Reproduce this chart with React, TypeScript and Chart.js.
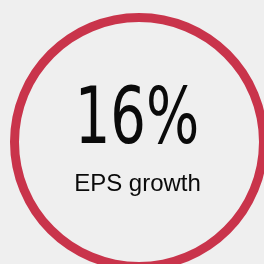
import React, { useEffect, useRef } from "react";
import { Chart, registerables } from "chart.js";

Chart.register(...registerables);

const segments = ["EPS growth"];
const segmentValues = [100];
const headlineValue = "16%";
const captionLabel = "EPS growth";

const RING_COLOR = "#c9344b";
const BG = "#efefef";

const centerText = {
  id: "centerText",
  afterDraw(chart: any) {
    const { ctx } = chart;
    const meta = chart.getDatasetMeta(0);
    const arc = meta.data[0];
    const cx = arc.x - 2;
    const cy = arc.y;
    ctx.save();
    ctx.fillStyle = "#0a0a0a";
    ctx.textAlign = "center";
    ctx.textBaseline = "alphabetic";
    ctx.save();
    ctx.translate(cx, cy + 1);
    ctx.scale(0.71, 1);
    ctx.font = "79px 'DejaVu Sans'";
    ctx.fillText(headlineValue, 0, 0);
    ctx.restore();
    ctx.font = "24px 'Liberation Sans', Arial, sans-serif";
    ctx.fillText(captionLabel, cx + 0.5, cy + 49);
    ctx.restore();
  },
};

export default function App() {
  const ref = useRef<HTMLCanvasElement | null>(null);
  useEffect(() => {
    document.body.style.margin = "0";
    document.body.style.background = BG;
    const chart = new Chart(ref.current as HTMLCanvasElement, {
      type: "doughnut",
      data: {
        labels: segments,
        datasets: [
          {
            data: segmentValues,
            backgroundColor: [RING_COLOR],
            borderWidth: 0,
          },
        ],
      },
      options: {
        responsive: false,
        animation: false,
        cutout: 120,
        layout: { padding: 0 },
        plugins: { legend: { display: false }, tooltip: { enabled: false } },
        events: [],
      },
      plugins: [centerText],
    });
    return () => chart.destroy();
  }, []);
  return (
    <div
      style={{
        position: "fixed",
        left: 0,
        top: 0,
        width: 264,
        height: 264,
        overflow: "hidden",
        background: BG,
      }}
    >
      <canvas
        ref={ref}
        width={258}
        height={258}
        style={{ position: "absolute", left: 10, top: 13, width: 258, height: 258 }}
      />
    </div>
  );
}
